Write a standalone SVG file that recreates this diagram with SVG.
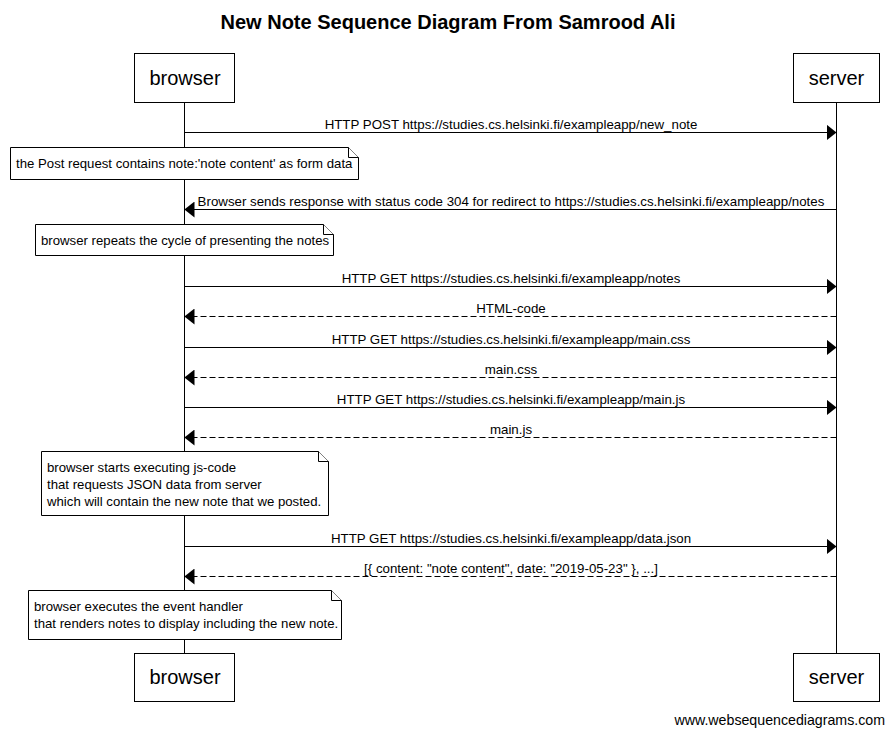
<svg xmlns="http://www.w3.org/2000/svg" width="894" height="736" viewBox="0 0 894 736">
<style>
text{font-family:"Liberation Sans",Arial,sans-serif;fill:#000}
.title{font-size:20px;font-weight:bold}
.actor{font-size:20px}
.lbl{font-size:13.3px}
.note{font-size:13.2px}
.foot{font-size:14.2px}
.box{fill:#fff;stroke:#000;stroke-width:1}
.life{stroke:#000;stroke-width:1}
.msg{stroke:#000;stroke-width:1;fill:none}
.dash{stroke-dasharray:6,3}
.nb{fill:#fff;stroke:#000;stroke-width:1}
</style>
<defs>
<marker id="ah" markerWidth="10" markerHeight="16" refX="10" refY="8" orient="auto" markerUnits="userSpaceOnUse">
<path d="M0,0 L10,8 L0,16 Z" fill="#000"/>
</marker>
</defs>
<rect width="894" height="736" fill="#fff"/>
<text class="title" x="448" y="29" text-anchor="middle">New Note Sequence Diagram From Samrood Ali</text>
<g id="lifelines">
<line class="life" x1="184.5" y1="102" x2="184.5" y2="653"/>
<line class="life" x1="836.5" y1="102" x2="836.5" y2="653"/>
</g>
<g id="browser-top"><rect class="box" x="134.5" y="53.5" width="100" height="49"/><text class="actor" x="185" y="85" text-anchor="middle">browser</text></g>
<g id="server-top"><rect class="box" x="793.5" y="53.5" width="86" height="49"/><text class="actor" x="836.5" y="85" text-anchor="middle">server</text></g>
<g id="browser-bottom"><rect class="box" x="134.5" y="653.5" width="100" height="48"/><text class="actor" x="185" y="684" text-anchor="middle">browser</text></g>
<g id="server-bottom"><rect class="box" x="793.5" y="653.5" width="86" height="48"/><text class="actor" x="836.5" y="684" text-anchor="middle">server</text></g>
<g id="connectors">
<line class="msg" x1="184.5" y1="132.5" x2="836.5" y2="132.5" marker-end="url(#ah)"/>
<text class="lbl" x="511" y="129" text-anchor="middle">HTTP POST https://studies.cs.helsinki.fi/exampleapp/new_note</text>
<line class="msg" x1="836.5" y1="209.5" x2="184.5" y2="209.5" marker-end="url(#ah)"/>
<text class="lbl" x="511" y="206" text-anchor="middle">Browser sends response with status code 304 for redirect to https://studies.cs.helsinki.fi/exampleapp/notes</text>
<line class="msg" x1="184.5" y1="286.5" x2="836.5" y2="286.5" marker-end="url(#ah)"/>
<text class="lbl" x="511" y="283" text-anchor="middle">HTTP GET https://studies.cs.helsinki.fi/exampleapp/notes</text>
<line class="msg dash" x1="836.5" y1="316.5" x2="184.5" y2="316.5" marker-end="url(#ah)"/>
<text class="lbl" x="511" y="313" text-anchor="middle">HTML-code</text>
<line class="msg" x1="184.5" y1="347.5" x2="836.5" y2="347.5" marker-end="url(#ah)"/>
<text class="lbl" x="511" y="344" text-anchor="middle">HTTP GET https://studies.cs.helsinki.fi/exampleapp/main.css</text>
<line class="msg dash" x1="836.5" y1="377.5" x2="184.5" y2="377.5" marker-end="url(#ah)"/>
<text class="lbl" x="511" y="374" text-anchor="middle">main.css</text>
<line class="msg" x1="184.5" y1="407.5" x2="836.5" y2="407.5" marker-end="url(#ah)"/>
<text class="lbl" x="511" y="404" text-anchor="middle">HTTP GET https://studies.cs.helsinki.fi/exampleapp/main.js</text>
<line class="msg dash" x1="836.5" y1="437.5" x2="184.5" y2="437.5" marker-end="url(#ah)"/>
<text class="lbl" x="511" y="434" text-anchor="middle">main.js</text>
<line class="msg" x1="184.5" y1="546.5" x2="836.5" y2="546.5" marker-end="url(#ah)"/>
<text class="lbl" x="511" y="543" text-anchor="middle">HTTP GET https://studies.cs.helsinki.fi/exampleapp/data.json</text>
<line class="msg dash" x1="836.5" y1="576.5" x2="184.5" y2="576.5" marker-end="url(#ah)"/>
<text class="lbl" x="511" y="573" text-anchor="middle">[{ content: "note content", date: "2019-05-23" }, ...]</text>
</g>
<g id="note1">
<path class="nb" d="M10.5,147.5 H348.5 L358.5,157.5 V179.5 H10.5 Z"/>
<path class="nb" d="M348.5,147.5 V157.5 H358.5"/>
<text class="note" x="16" y="168">the Post request contains note:'note content' as form data</text>
</g>
<g id="note2">
<path class="nb" d="M35.5,224.5 H323.5 L333.5,234.5 V255.5 H35.5 Z"/>
<path class="nb" d="M323.5,224.5 V234.5 H333.5"/>
<text class="note" x="41" y="245">browser repeats the cycle of presenting the notes</text>
</g>
<g id="note3">
<path class="nb" d="M41.5,451.5 H318.5 L328.5,461.5 V515.5 H41.5 Z"/>
<path class="nb" d="M318.5,451.5 V461.5 H328.5"/>
<text class="note" x="47" y="472">browser starts executing js-code</text>
<text class="note" x="47" y="489">that requests JSON data from server</text>
<text class="note" x="47" y="506">which will contain the new note that we posted.</text>
</g>
<g id="note4">
<path class="nb" d="M28.5,590.5 H331.5 L341.5,600.5 V639.5 H28.5 Z"/>
<path class="nb" d="M331.5,590.5 V600.5 H341.5"/>
<text class="note" x="34" y="611">browser executes the event handler</text>
<text class="note" x="34" y="628">that renders notes to display including the new note.</text>
</g>
<text class="foot" x="885" y="725" text-anchor="end">www.websequencediagrams.com</text>
</svg>
